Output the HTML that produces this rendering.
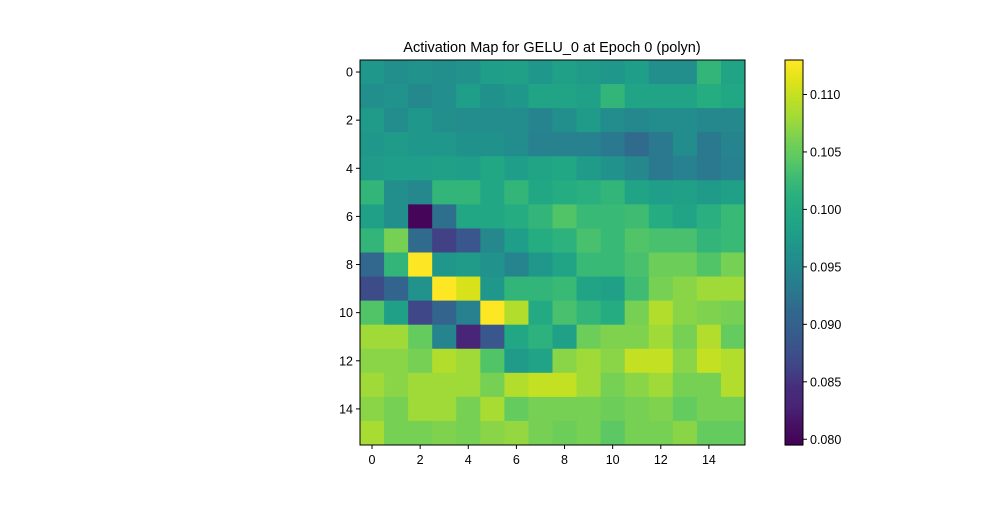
<!DOCTYPE html>
<html><head><meta charset="utf-8"><style>
body{margin:0;background:#fff;}
svg text{font-family:"Liberation Sans","DejaVu Sans",sans-serif;fill:#000;}
</style></head><body>
<svg id="chart" width="1000" height="500" xmlns="http://www.w3.org/2000/svg">
<rect width="1000" height="500" fill="#fff"/>
<text x="552" y="52" font-size="14.5" text-anchor="middle">Activation Map for GELU_0 at Epoch 0 (polyn)</text>
<g id="cells"></g>
<g id="axes"></g>
<g id="cbar"></g>
</svg>
<script>
const rowLabels = [0,1,2,3,4,5,6,7,8,9,10,11,12,13,14,15];
const colLabels = [0,1,2,3,4,5,6,7,8,9,10,11,12,13,14,15];
const xTicks = [0,2,4,6,8,10,12,14];
const yTicks = [0,2,4,6,8,10,12,14];
const cbarTicks = [0.080,0.085,0.090,0.095,0.100,0.105,0.110];
const vmin = 0.0795, vmax = 0.113;
const values = [
[0.097,0.096,0.0965,0.096,0.0965,0.098,0.0985,0.097,0.0985,0.0975,0.097,0.098,0.096,0.096,0.102,0.099],
[0.096,0.0965,0.095,0.0958,0.098,0.0962,0.097,0.099,0.099,0.0985,0.102,0.099,0.099,0.099,0.1005,0.0995],
[0.0975,0.0955,0.097,0.096,0.0955,0.0955,0.0955,0.0945,0.096,0.0975,0.0955,0.095,0.0955,0.0955,0.095,0.095],
[0.097,0.0975,0.097,0.097,0.0962,0.0962,0.0955,0.094,0.094,0.094,0.093,0.0915,0.093,0.0955,0.093,0.0945],
[0.0975,0.098,0.098,0.0985,0.098,0.0995,0.098,0.099,0.0995,0.0975,0.0965,0.095,0.093,0.094,0.093,0.094],
[0.102,0.096,0.095,0.102,0.102,0.0995,0.102,0.0995,0.1005,0.101,0.102,0.099,0.098,0.0985,0.0975,0.0985],
[0.0985,0.096,0.0799,0.092,0.0995,0.0995,0.1005,0.102,0.104,0.1025,0.1025,0.103,0.1005,0.099,0.101,0.1025],
[0.102,0.106,0.0915,0.086,0.0885,0.095,0.098,0.1005,0.1015,0.1035,0.1025,0.104,0.1035,0.1035,0.102,0.1025],
[0.091,0.102,0.113,0.097,0.0975,0.0965,0.0945,0.097,0.099,0.1025,0.1025,0.1035,0.1055,0.1055,0.104,0.106],
[0.087,0.0905,0.0965,0.113,0.111,0.097,0.102,0.102,0.1025,0.099,0.0985,0.103,0.106,0.107,0.108,0.108],
[0.104,0.0985,0.0865,0.0905,0.094,0.113,0.109,0.1,0.1035,0.102,0.1005,0.106,0.109,0.107,0.1065,0.106],
[0.108,0.108,0.105,0.0945,0.083,0.0885,0.0995,0.1015,0.0985,0.1055,0.1065,0.1065,0.108,0.106,0.109,0.105],
[0.107,0.107,0.106,0.109,0.108,0.104,0.0975,0.099,0.107,0.108,0.107,0.110,0.110,0.107,0.110,0.109],
[0.108,0.107,0.108,0.108,0.108,0.106,0.109,0.110,0.110,0.108,0.106,0.107,0.108,0.106,0.106,0.109],
[0.107,0.106,0.108,0.108,0.106,0.1085,0.105,0.106,0.106,0.106,0.1055,0.106,0.1065,0.105,0.106,0.106],
[0.1085,0.106,0.106,0.1065,0.106,0.107,0.1075,0.106,0.1055,0.106,0.1045,0.106,0.106,0.107,0.105,0.105]
];
const NS="http://www.w3.org/2000/svg";
const stops=["#440154","#471063","#482475","#472d7b","#414487","#3b528b","#355f8d","#31688e","#2a788e","#25858e","#21918c","#1f9e89","#22a884","#2ab07f","#3fbc73","#5ec962","#7ad151","#a0da39","#bddf26","#dfe318","#fde725"].map(h=>[1,3,5].map(i=>parseInt(h.substr(i,2),16)));
function viridis(t){t=Math.max(0,Math.min(1,t));const p=t*(stops.length-1);const i=Math.min(Math.floor(p),stops.length-2);const f=p-i;const a=stops[i],b=stops[i+1];return `rgb(${a.map((v,k)=>Math.round(v+(b[k]-v)*f)).join(',')})`;}
const L=360,T=60,W=385,H=385;
const cw=W/colLabels.length, ch=H/rowLabels.length;
const xs=c=>L+(c+0.5)*cw, ys=r=>T+(r+0.5)*ch;
function mk(tag,attrs,parent){const e=document.createElementNS(NS,tag);for(const k in attrs)e.setAttribute(k,attrs[k]);parent.appendChild(e);return e;}
const cells=document.getElementById('cells');
values.forEach((row,r)=>row.forEach((v,c)=>{
 const e=mk('rect',{x:xs(c)-cw/2,y:ys(r)-ch/2,width:cw+0.5,height:ch+0.5,fill:viridis((v-vmin)/(vmax-vmin))},cells);
 
 
}));
const ax=document.getElementById('axes');
const fr=mk('rect',{x:L,y:T,width:W,height:H,fill:'none',stroke:'#000','stroke-width':1},ax);


xTicks.forEach(t=>{
 mk('line',{x1:xs(t),x2:xs(t),y1:T+H,y2:T+H+4,stroke:'#000'},ax);
 const tx=mk('text',{x:xs(t),y:T+H+19,'font-size':12.5,'text-anchor':'middle'},ax);tx.textContent=t;
 
 
});
yTicks.forEach(t=>{
 mk('line',{x1:L-4,x2:L,y1:ys(t),y2:ys(t),stroke:'#000'},ax);
 const tx=mk('text',{x:L-7,y:ys(t)+4.5,'font-size':12.5,'text-anchor':'end'},ax);tx.textContent=t;
 
 
});
const cb=document.getElementById('cbar');
const CX=785,CW=18;
const cy=v=>T+H-(v-vmin)/(vmax-vmin)*H;
for(let i=0;i<200;i++){const v0=vmin+(vmax-vmin)*i/200,v1=vmin+(vmax-vmin)*(i+1)/200;
 mk('rect',{x:CX,y:cy(v1),width:CW,height:cy(v0)-cy(v1)+0.6,fill:viridis(i/199)},cb);}
mk('rect',{x:CX,y:T,width:CW,height:H,fill:'none',stroke:'#000'},cb);
cbarTicks.forEach(t=>{
 mk('line',{x1:CX+CW,x2:CX+CW+4,y1:cy(t),y2:cy(t),stroke:'#000'},cb);
 const tx=mk('text',{x:CX+CW+7,y:cy(t)+4.5,'font-size':12.5},cb);tx.textContent=t.toFixed(3);
 
 
});
</script>
</body></html>
